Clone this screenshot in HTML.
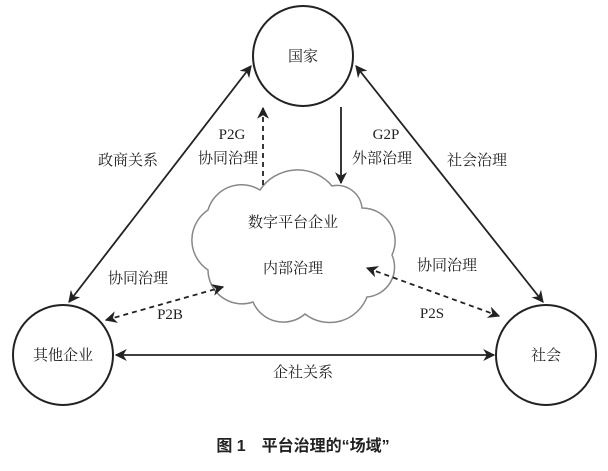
<!DOCTYPE html>
<html><head><meta charset="utf-8"><style>
html,body{margin:0;padding:0;background:#fff;}
svg text{font-family:"Liberation Serif","Noto Serif CJK SC",serif;fill:#222;}
</style></head><body>
<svg width="608" height="466" viewBox="0 0 608 466" xmlns="http://www.w3.org/2000/svg">
<defs>
<marker id="a" viewBox="0 0 10 10" refX="9" refY="5" markerWidth="12" markerHeight="12" orient="auto-start-reverse" markerUnits="userSpaceOnUse">
<path d="M0,0 L10,5 L0,10 L3,5 Z" fill="#222"/></marker>
</defs>
<g fill="none" stroke="#222" stroke-width="2">
<circle cx="303" cy="56" r="50"/>
<circle cx="63" cy="355" r="50"/>
<circle cx="546" cy="355" r="50"/>
</g>
<path d="M208,210 A35,35 0 0,1 260,190 A45,45 0 0,1 332,186 A25,25 0 0,1 362,208 A33,33 0 0,1 392,255 A30,30 0 0,1 367,297 A40,40 0 0,1 305,314 A33,33 0 0,1 253,302 A34,34 0 0,1 208,270 A36,36 0 0,1 208,210 Z" fill="#fff" stroke="#888" stroke-width="1.5"/>
<g stroke="#222" stroke-width="1.8" fill="none">
<line x1="69" y1="302" x2="251" y2="66" marker-start="url(#a)" marker-end="url(#a)"/>
<line x1="543" y1="302" x2="356" y2="66" marker-start="url(#a)" marker-end="url(#a)"/>
<line x1="116" y1="355" x2="494" y2="355" marker-start="url(#a)" marker-end="url(#a)"/>
<line x1="341" y1="107" x2="341" y2="183" marker-end="url(#a)"/>
<line x1="263" y1="185" x2="263" y2="108" stroke-dasharray="5,4" marker-end="url(#a)"/>
<line x1="106" y1="320" x2="223" y2="287" stroke-dasharray="5,4" marker-start="url(#a)" marker-end="url(#a)"/>
<line x1="499" y1="316" x2="367" y2="268" stroke-dasharray="5,4" marker-start="url(#a)" marker-end="url(#a)"/>
</g>
<g font-size="15" text-anchor="middle">
<text x="303" y="61">国家</text>
<text x="63" y="360">其他企业</text>
<text x="546" y="360">社会</text>
<text x="128" y="165">政商关系</text>
<text x="232" y="139">P2G</text>
<text x="228" y="163">协同治理</text>
<text x="386" y="139">G2P</text>
<text x="382" y="163">外部治理</text>
<text x="477" y="165">社会治理</text>
<text x="293" y="227">数字平台企业</text>
<text x="293" y="273">内部治理</text>
<text x="138" y="283">协同治理</text>
<text x="170" y="319">P2B</text>
<text x="447" y="270">协同治理</text>
<text x="432" y="318">P2S</text>
<text x="303" y="377">企社关系</text>
<text x="303" y="451" font-weight="bold" font-size="16" style="font-family:'Liberation Sans','Noto Sans CJK SC',sans-serif">图 1　平台治理的“场域”</text>
</g>
</svg>
</body></html>
